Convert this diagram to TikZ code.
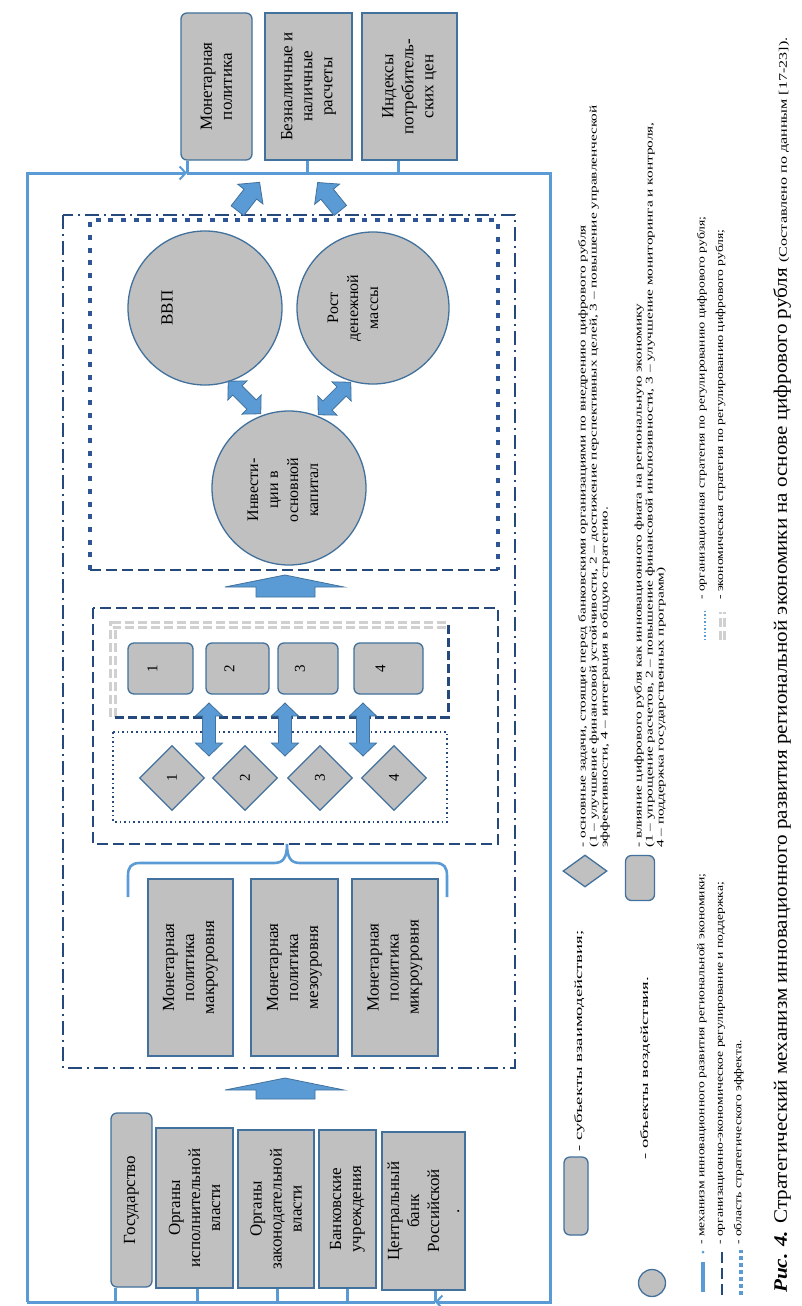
\documentclass[tikz,border=0pt]{standalone}
\usepackage{fontspec}
\setmainfont{Liberation Serif}
\newfontfamily\legA[FakeStretch=1.7]{Liberation Serif}
\newfontfamily\legB[FakeStretch=1.5]{Liberation Serif}
\newfontfamily\legC[FakeStretch=1.3]{Liberation Serif}
\newfontfamily\capA[FakeStretch=1.11]{Liberation Serif}
\newfontfamily\capB[FakeStretch=1.4]{Liberation Serif}
\usetikzlibrary{arrows.meta,shapes.geometric,calc}
\definecolor{frameblue}{HTML}{5B9BD5}
\definecolor{navy}{HTML}{24497A}
\definecolor{boxgray}{HTML}{C0C0C0}
\definecolor{boxedge}{HTML}{41719C}
\definecolor{arrowfill}{HTML}{5B9BD5}
\definecolor{lightgr}{HTML}{D0D0D0}
\definecolor{dotblue}{HTML}{2F5597}
\newcommand\dblarrow[4]{%
  \begin{scope}[shift={(#1,#2)},rotate=#3]
    \filldraw[blockarrow]
      (-#4/2,0) -- ++(13,-13.5) -- ++(0,7) -- (#4/2-13,-6.5) -- ++(0,-7) -- (#4/2,0)
      -- ++(-13,13.5) -- ++(0,-7) -- (-#4/2+13,6.5) -- ++(0,7) -- cycle;
  \end{scope}}
\newcommand\sglarrow[4]{%
  \begin{scope}[shift={(#1,#2)},rotate=#3]
    \filldraw[blockarrow]
      (-#4/2,-8) -- (#4/2-15,-8) -- ++(0,-8) -- (#4/2,0) -- (#4/2-15,16) -- ++(0,-8)
      -- (-#4/2,8) -- cycle;
  \end{scope}}
\begin{document}
\begin{tikzpicture}[x=1pt,y=-1pt,
  blockarrow/.style={fill=arrowfill,draw=boxedge,line width=0.8pt},
  box/.style={draw=boxedge,line width=1.3pt,fill=boxgray,rotate=90,inner sep=0pt,
    align=center,font=\fontsize{17}{20}\selectfont},
  rbox/.style={box,rounded corners=6pt},
  circ/.style={circle,draw=boxedge,line width=1.3pt,fill=boxgray,inner sep=0pt},
  dia/.style={diamond,draw=boxedge,line width=1.3pt,fill=boxgray,inner sep=0pt},
  rt/.style={rotate=90,inner sep=0pt,align=center},
  frame/.style={draw=frameblue,line width=3pt},
  dashdotreg/.style={draw=navy,line width=2pt,dash pattern=on 14pt off 5pt on 2pt off 5pt},
  dashreg/.style={draw=navy,line width=2pt,dash pattern=on 11pt off 5pt},
  dotreg/.style={draw=dotblue,line width=4pt,dash pattern=on 5pt off 7.7pt},
  finedot/.style={draw=navy,line width=1.6pt,dash pattern=on 1.6pt off 3pt},
  graydbl/.style={draw=lightgr,line width=3.2pt,double=white,double distance=1.2pt,dash pattern=on 9pt off 4pt},
  darkdash/.style={draw=navy,line width=3pt,dash pattern=on 9pt off 4pt},
  legtxt/.style={rotate=90,inner sep=0pt,align=left,anchor=north west},
  barb/.style={-{Straight Barb[length=6pt,width=13pt,line width=2pt]}}
]
\useasboundingbox (0,0) rectangle (802,1306);
\fill[white] (0,0) rectangle (802,1306);

% ---------- regions
\draw[dashdotreg] (63,215) rectangle (515,1068);
\draw[dotreg] (90,570) -- (90,220) -- (498,220) -- (498,570);
\draw[dashreg] (90,570) -- (498,570);
\draw[dashreg] (93,608) rectangle (498,844);
\draw[graydbl] (113,717) -- (113,625) -- (448,625);
\draw[darkdash] (448,625) -- (448,717) -- (113,717);
\draw[finedot] (113,732) rectangle (447,822);

% ---------- top boxes
\node[rbox,minimum width=147pt,minimum height=71pt] (mp) at (216.5,86.5) {Монетарная\\политика};
\node[box,minimum width=147pt,minimum height=87pt] (bn) at (308.5,86.5) {Безналичные и\\наличные\\расчеты};
\node[box,minimum width=147pt,minimum height=95pt] (ic) at (409.5,86.5) {Индексы\\потребитель-\\ских цен};

% ---------- circles
\node[circ,minimum size=154pt] (vvp) at (205,308) {};
\node[rt,font=\fontsize{17}{20}\selectfont] (vvpt) at (167,308) {ВВП};
\node[circ,minimum size=152pt] (rost) at (373,308) {};
\node[rt,font=\fontsize{16}{20}\selectfont] (rostt) at (353,308) {Рост\\денежной\\массы};
\node[circ,minimum size=154pt] (inv) at (289,488) {};
\node[rt,font=\fontsize{16}{20}\selectfont] (invt) at (283,490) {Инвести-\\ции в\\основной\\капитал};

\dblarrow{244.5}{397.5}{-45}{46}
\dblarrow{334.5}{398.5}{45}{46}
\sglarrow{248.5}{196.5}{52}{36}
\sglarrow{329}{196.5}{129}{36}

% ---------- up arrows
\filldraw[blockarrow] (285,575) -- (344,587) -- (315,587) -- (315,597) -- (256,597) -- (256,587) -- (225,587) -- cycle;
\filldraw[blockarrow] (285,1078) -- (344,1090) -- (315,1090) -- (315,1099) -- (256,1099) -- (256,1090) -- (225,1090) -- cycle;

% ---------- numbered rects
\foreach \n/\cx/\w in {1/160.5/65,2/237.5/63,3/308/60,4/388.5/69}{
  \node[rbox,minimum width=51pt,minimum height=\w pt] (r\n) at (\cx,668.5) {};
  \node[rt,font=\fontsize{15}{18}\selectfont] (r\n t) at (\cx-8,668.5) {\n};
}
\foreach \n/\cx in {1/172,2/245,3/320,4/394}{
  \node[dia,minimum width=65pt,minimum height=65pt] (d\n) at (\cx,778) {};
  \node[rt,font=\fontsize{15}{18}\selectfont] (d\n t) at (\cx,778) {\n};
}
\dblarrow{209}{729.5}{90}{53}
\dblarrow{285}{729.5}{90}{53}
\dblarrow{363}{729.5}{90}{53}

% ---------- brace
\draw[frame,line width=2.6pt] (128,897) -- (128,876) .. controls (128,867) and (131,863) .. (140,863)
  -- (274,863) .. controls (283,863) and (287,858) .. (287,844)
  .. controls (287,858) and (291,863) .. (300,863) -- (435,863)
  .. controls (444,863) and (447,867) .. (447,876) -- (447,897);

% ---------- middle boxes
\node[box,minimum width=177pt,minimum height=85pt] (mac) at (190.5,967.5) {Монетарная\\политика\\макроуровня};
\node[box,minimum width=177pt,minimum height=87pt] (mes) at (294.5,967.5) {Монетарная\\политика\\мезоуровня};
\node[box,minimum width=177pt,minimum height=86pt] (mic) at (395,967.5) {Монетарная\\политика\\микроуровня};

% ---------- bottom boxes
\node[rbox,minimum width=174pt,minimum height=41pt] (g) at (131.5,1200) {Государство};
\node[box,minimum width=160pt,minimum height=77pt] (oi) at (194.5,1208) {Органы\\исполнительной\\власти};
\node[box,minimum width=158pt,minimum height=76pt] (oz) at (276,1209) {Органы\\законодательной\\власти};
\node[box,minimum width=158pt,minimum height=57pt] (bu) at (347.5,1209) {Банковские\\учреждения};
\node[box,minimum width=158pt,minimum height=83pt] (cb) at (423.5,1211) {Центральный\\банк\\Российской\\.};

% ---------- frame
\coordinate (fTL) at (27,173);
\coordinate (fTR) at (550,173);
\coordinate (fBR) at (550,1302);
\coordinate (fBL) at (27,1302);
\coordinate (s1) at (187,173);
\coordinate (s2) at (307,173);
\coordinate (s3) at (398,173);
\coordinate (b1) at (115,1302);
\coordinate (b2) at (197,1302);
\coordinate (b3) at (277,1302);
\coordinate (b4) at (347,1302);
\coordinate (b5) at (435,1302);
\draw[frame] (mp.west -| s1) -- (s1);
\draw[frame] (bn.west -| s2) -- (s2);
\draw[frame] (ic.west -| s3) -- (s3);
\draw[frame] (g.west -| b1) -- (b1);
\draw[frame] (oi.west -| b2) -- (b2);
\draw[frame] (oz.west -| b3) -- (b3);
\draw[frame] (bu.west -| b4) -- (b4);
\draw[frame] (cb.west -| b5) -- (b5);
\draw[frame,barb] (fBL) -- (fTL) -- (s1);
\draw[frame,barb] (s1) -- (fTR) -- (fBR) -- (b5);
\draw[frame] (b5) -- (fBL);

% ---------- legend
\node[rbox,minimum width=78pt,minimum height=24pt] (lr1) at (576,1196) {};
\node[legtxt,font=\legA\fontsize{11}{11}\selectfont] (lt1) at (574,1152) {- субъекты взаимодействия;};
\node[dia,minimum width=44pt,minimum height=32pt] (ld1) at (585,871) {};
\node[legtxt,font=\legB\fontsize{10.2}{11}\selectfont] (lt2) at (578,848) {- основные задачи, стоящие перед банковскими организациями по внедрению цифрового рубля\\(1 – улучшение финансовой устойчивости, 2 – достижение перспективных целей, 3 – повышение управленческой\\эффективности, 4 – интеграция в общую стратегию.};
\node[circ,minimum size=27pt] (lc1) at (652,1283) {};
\node[legtxt,font=\legA\fontsize{11}{11}\selectfont] (lt3) at (640,1160) {- объекты воздействия.};
\node[rbox,minimum width=45pt,minimum height=29pt] (lr2) at (640,878) {};
\node[legtxt,font=\legB\fontsize{10.2}{11}\selectfont] (lt4) at (634,848) {- влияние цифрового рубля как инновационного фиата на региональную экономику\\(1 – упрощение расчетов, 2 – повышение финансовой инклюзивности, 3 – улучшение мониторинга и контроля,\\4 – поддержка государственных программ)};

\coordinate (la1) at (703,1292);
\coordinate (la2) at (703,1262);
\draw[frame,line width=4pt] (la1) -- (la2);
\fill[frameblue] (703,1252) circle (1.5pt);
\coordinate (lb1) at (722,1295);
\coordinate (lb2) at (722,1252);
\draw[dashreg] (lb1) -- (lb2);
\coordinate (lc1a) at (741,1295);
\coordinate (lc2a) at (741,1250);
\draw[draw=frameblue,line width=4pt,dash pattern=on 4pt off 3pt] (lc1a) -- (lc2a);
\node[legtxt,font=\legC\fontsize{10.5}{18.5}\selectfont] (lt5) at (697,1245) {- механизм инновационного развития региональной экономики;\\- организационно-экономическое регулирование и поддержка;\\- область стратегического эффекта.};
\coordinate (ld1a) at (705,640);
\coordinate (ld2a) at (705,610);
\draw[draw=frameblue,line width=1.5pt,dash pattern=on 1.5pt off 2pt] (ld1a) -- (ld2a);
\coordinate (le1a) at (722,640);
\coordinate (le2a) at (722,612);
\draw[draw=lightgr,line width=3pt,double=white,double distance=1pt,dash pattern=on 9pt off 4pt] (le1a) -- (le2a);
\node[legtxt,font=\legC\fontsize{10.5}{18.5}\selectfont] (lt6) at (697,600) {- организационная стратегия по регулированию цифрового рубля;\\- экономическая стратегия по регулированию цифрового рубля;};

% ---------- caption
\node[rotate=90,inner sep=0pt,anchor=west] (cap) at (782,1293) {\capA\fontsize{19}{22}\selectfont{\bfseries\itshape Рис. 4.} Стратегический механизм инновационного развития региональной экономики на основе цифрового рубля {\capB\fontsize{11.5}{14}\selectfont(Составлено по данным [17-23]).}};
\end{tikzpicture}
\end{document}
